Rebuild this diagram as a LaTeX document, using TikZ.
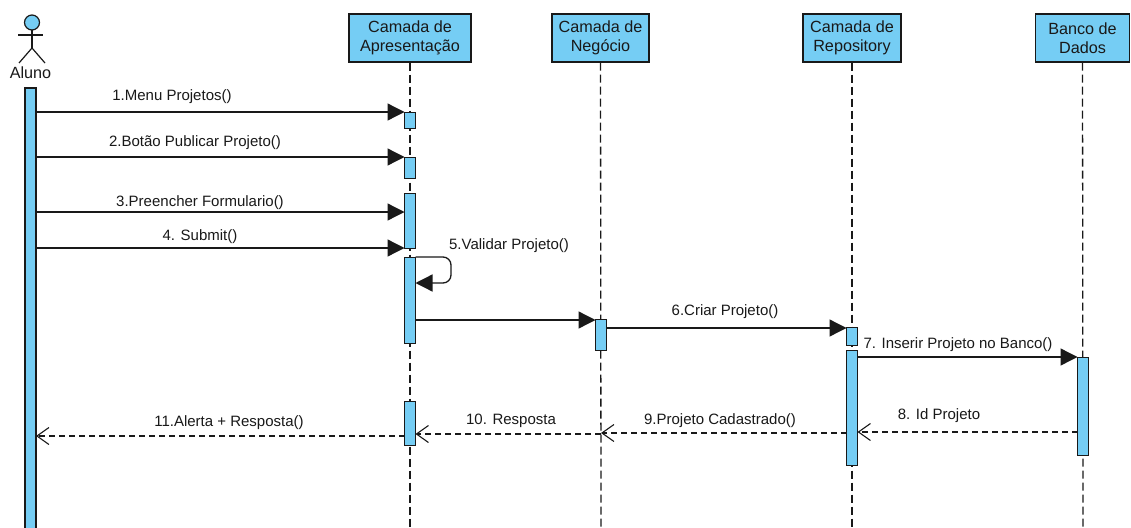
\documentclass[tikz,border=0pt]{standalone}
\usepackage{fontspec}
\setmainfont{Liberation Sans}
\usetikzlibrary{arrows.meta}
\definecolor{actfill}{RGB}{117,205,244}
\definecolor{inkc}{RGB}{25,25,25}
\tikzset{
  hdr/.style={draw=inkc, line width=1.4pt, fill=actfill, inner sep=0pt, align=center, font=\fontsize{16.2}{18.5}\selectfont, text=inkc},
  actbar/.style={draw=inkc, line width=1.3pt, fill=actfill, inner sep=0pt, minimum width=11pt},
  lifel/.style={draw=inkc, line width=1.3pt, dash pattern=on 8pt off 4pt},
  msg/.style={draw=inkc, line width=1.3pt, -{Triangle[length=17pt,width=17pt]}},
  ret/.style={draw=inkc, line width=1.2pt, dash pattern=on 6pt off 4pt, -{Straight Barb[length=12pt,width=17pt,line width=1.1pt]}},
  lbl/.style={font=\fontsize{15}{17}\selectfont, text=inkc, inner sep=0pt},
}
\begin{document}
\begin{tikzpicture}[x=1pt,y=-1pt]
\useasboundingbox[fill=white] (0,0) rectangle (1131,527);

% headers
\node[hdr, minimum width=122pt, minimum height=48pt] (hA) at (410,38) {Camada de\\Apresentação};
\node[hdr, minimum width=97pt, minimum height=48pt] (hN) at (600.5,38) {Camada de\\Negócio};
\node[hdr, minimum width=98pt, minimum height=48pt] (hR) at (852,38) {Camada de\\Repository};
\node[hdr, minimum width=94pt, minimum height=48pt] (hB) at (1082.5,38) {Banco de\\Dados};

% lifeline ends
\coordinate (eA) at (410,527);
\coordinate (eN) at (601,527);
\coordinate (eR) at (852,527);
\coordinate (eB) at (1083,527);
\draw[lifel] (hA.south) -- (eA);
\draw[lifel] (hN.south) -- (eN);
\draw[lifel] (hR.south) -- (eR);
\draw[lifel] (hB.south) -- (eB);

% actor
\draw[draw=inkc, line width=1.2pt, fill=actfill] (32,22.5) circle (7.5pt);
\coordinate (neck) at (32,30);
\coordinate (hip) at (32,48);
\coordinate (armL) at (18,35);
\coordinate (armR) at (43,35);
\coordinate (legL) at (19,63);
\coordinate (legR) at (45,63);
\draw[draw=inkc, line width=1.2pt] (neck) -- (hip);
\draw[draw=inkc, line width=1.2pt] (armL) -- (armR);
\draw[draw=inkc, line width=1.2pt] (legL) -- (hip) -- (legR);
\node[font=\fontsize{16.2}{18.5}\selectfont, text=inkc, inner sep=0pt] (aluno) at (30.5,73) {Aluno};

% activation bars
\node[actbar, minimum height=445pt] (aB) at (30.5,310.5) {};
\node[actbar, anchor=north, minimum height=16pt] (a1) at (410,112) {};
\node[actbar, anchor=north, minimum height=21pt] (a2) at (410,157) {};
\node[actbar, anchor=north, minimum height=55pt] (a3) at (410,193) {};
\node[actbar, anchor=north, minimum height=86pt] (a4) at (410,257) {};
\node[actbar, anchor=north, minimum height=44pt] (a5) at (410,401) {};
\node[actbar, anchor=north, minimum height=31pt] (n1) at (601,319) {};
\node[actbar, anchor=north, minimum height=18pt] (r1) at (852,327) {};
\node[actbar, anchor=north, minimum height=115pt] (r2) at (852,350) {};
\node[actbar, anchor=north, minimum height=98pt] (b1) at (1083,357) {};

% message endpoints
\coordinate (m1s) at (36,112);  \coordinate (m1e) at (404.5,112);
\coordinate (m2s) at (36,157);  \coordinate (m2e) at (404.5,157);
\coordinate (m3s) at (36,212);  \coordinate (m3e) at (404.5,212);
\coordinate (m4s) at (36,248);  \coordinate (m4e) at (404.5,248);
\coordinate (m5s) at (415.5,257); \coordinate (m5c) at (451,257); \coordinate (m5d) at (451,283); \coordinate (m5e) at (415.5,283);
\coordinate (m6s) at (415.5,320); \coordinate (m6e) at (595.5,320);
\coordinate (m6bs) at (606.5,328); \coordinate (m6be) at (846.5,328);
\coordinate (m7s) at (857.5,357); \coordinate (m7e) at (1077.5,357);
\coordinate (m8s) at (1077.5,432); \coordinate (m8e) at (857.5,432);
\coordinate (m9s) at (846.5,433); \coordinate (m9e) at (601,433);
\coordinate (m10s) at (601,434); \coordinate (m10e) at (415.5,434);
\coordinate (m11s) at (404.5,436); \coordinate (m11e) at (36,436);

\draw[msg] (m1s) -- (m1e);
\draw[msg] (m2s) -- (m2e);
\draw[msg] (m3s) -- (m3e);
\draw[msg] (m4s) -- (m4e);
\draw[msg, rounded corners=8pt] (m5s) -- (m5c) -- (m5d) -- (m5e);
\draw[msg] (m6s) -- (m6e);
\draw[msg] (m6bs) -- (m6be);
\draw[msg] (m7s) -- (m7e);
\draw[ret] (m8s) -- (m8e);
\draw[ret] (m9s) -- (m9e);
\draw[ret] (m10s) -- (m10e);
\draw[ret] (m11s) -- (m11e);

% labels
\node[lbl] (l1) at (172,97) {1.Menu Projetos()};
\node[lbl] (l2) at (195,143) {2.Botão Publicar Projeto()};
\node[lbl] (l3) at (200,203) {3.Preencher Formulario()};
\node[lbl] (l4) at (200,237) {4. Submit()};
\node[lbl] (l5) at (509,246) {5.Validar Projeto()};
\node[lbl] (l6) at (725,312) {6.Criar Projeto()};
\node[lbl] (l7) at (958,345) {7. Inserir Projeto no Banco()};
\node[lbl] (l8) at (939,416) {8. Id Projeto};
\node[lbl] (l9) at (720,421) {9.Projeto Cadastrado()};
\node[lbl] (l10) at (511,421) {10. Resposta};
\node[lbl] (l11) at (229,423) {11.Alerta + Resposta()};
\end{tikzpicture}
\end{document}
